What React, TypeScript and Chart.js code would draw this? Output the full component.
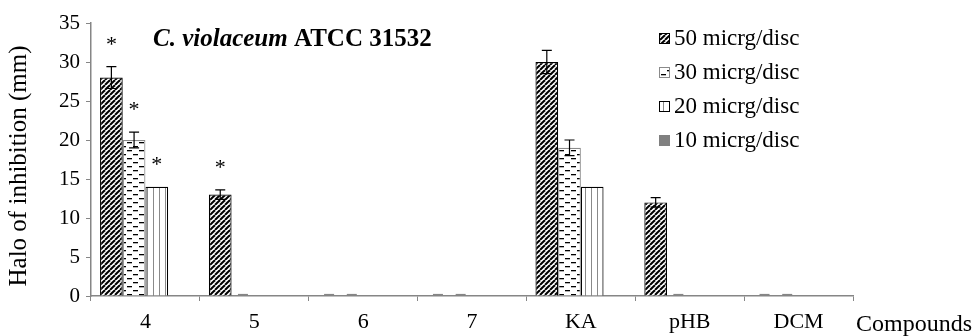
import React, { useEffect, useRef } from "react";
import { Chart, registerables } from "chart.js";
Chart.register(...registerables);

const categories = ["4", "5", "6", "7", "KA", "pHB", "DCM"];
const seriesLabels = ["50 micrg/disc", "30 micrg/disc", "20 micrg/disc", "10 micrg/disc"];
const values50 = [28, 13, 0, 0, 30, 12, 0];
const values30 = [20, 0, 0, 0, 19, 0, 0];
const values20 = [14, 0, 0, 0, 14, 0, 0];
const values10 = [0, 0, 0, 0, 0, 0, 0];
const err50: (number | null)[] = [1.4, 0.6, 0, 0, 1.5, 0.6, 0];
const err30: (number | null)[] = [1, 0, 0, 0, 1, 0, 0];
const err20: (number | null)[] = [null, null, null, null, null, null, null];
const err10: (number | null)[] = [null, null, null, null, null, null, null];
const sig50 = ["*", "*", "", "", "", "", ""];
const sig30 = ["*", "", "", "", "", "", ""];
const sig20 = ["*", "", "", "", "", "", ""];
const sig10 = ["", "", "", "", "", "", ""];
const yMin = 0;
const yMax = 35;
const yStep = 5;
const titleItalic = "C. violaceum";
const titleBold = " ATCC 31532";
const yTitle = "Halo of inhibition (mm)";
const xTitle = "Compounds";

const FONT = "'Liberation Serif', 'Times New Roman', serif";
const AXIS = "#868686";

function makePattern(kind: string): CanvasPattern | string {
  const c = document.createElement("canvas");
  let ctx: CanvasRenderingContext2D;
  if (kind === "diag") {
    const s = 5;
    c.width = s; c.height = s;
    ctx = c.getContext("2d")!;
    ctx.fillStyle = "#fff"; ctx.fillRect(0, 0, s, s);
    ctx.strokeStyle = "#000"; ctx.lineWidth = 2;
    for (const k of [-1, 0, 1]) {
      ctx.beginPath(); ctx.moveTo(k * s, s); ctx.lineTo(k * s + s, 0); ctx.stroke();
    }
  } else if (kind === "dash") {
    c.width = 12; c.height = 8;
    ctx = c.getContext("2d")!;
    ctx.fillStyle = "#fff"; ctx.fillRect(0, 0, 12, 8);
    ctx.fillStyle = "#000";
    ctx.fillRect(1, 2, 5, 1.3);
    ctx.fillRect(7, 6, 5, 1.3);
  } else if (kind === "vert") {
    c.width = 6; c.height = 2;
    ctx = c.getContext("2d")!;
    ctx.fillStyle = "#fff"; ctx.fillRect(0, 0, 6, 2);
    ctx.fillStyle = "#8a8a8a"; ctx.fillRect(3, 0, 1, 2);
  } else {
    return "#808080";
  }
  return ctx.createPattern(c, "repeat")!;
}

export default function App() {
  const ref = useRef<HTMLCanvasElement>(null);
  useEffect(() => {
    const errs = [err50, err30, err20, err10];
    const sigs = [sig50, sig30, sig20, sig10];
    const borders = ["#000", "#8a8a8a", "#000", "#808080"];
    const fills = [makePattern("diag"), makePattern("dash"), makePattern("vert"), makePattern("solid")];
    const vals = [values50, values30, values20, values10];

    const overlay = {
      id: "overlay",
      afterDatasetsDraw(chart: any) {
        const ctx = chart.ctx as CanvasRenderingContext2D;
        const y = chart.scales.y;
        ctx.save();
        chart.data.datasets.forEach((ds: any, di: number) => {
          const meta = chart.getDatasetMeta(di);
          meta.data.forEach((bar: any, i: number) => {
            const v = vals[di][i];
            const e = errs[di][i];
            let top = y.getPixelForValue(v);
            if (e !== null && e !== undefined) {
              const yt = y.getPixelForValue(v + e);
              const yb = y.getPixelForValue(Math.max(0, v - e));
              ctx.strokeStyle = v === 0 ? AXIS : "#000";
              ctx.lineWidth = 1.2;
              ctx.beginPath();
              if (v === 0) {
                ctx.moveTo(bar.x - 5, yt - 1.5); ctx.lineTo(bar.x + 5, yt - 1.5);
              } else {
                ctx.moveTo(bar.x, yt); ctx.lineTo(bar.x, yb);
                ctx.moveTo(bar.x - 5, yt); ctx.lineTo(bar.x + 5, yt);
                ctx.moveTo(bar.x - 5, yb); ctx.lineTo(bar.x + 5, yb);
              }
              ctx.stroke();
              top = Math.min(top, yt);
            }
            const s = sigs[di][i];
            if (s) {
              ctx.fillStyle = "#000";
              ctx.font = `22px ${FONT}`;
              ctx.textAlign = "center";
              ctx.textBaseline = "alphabetic";
              ctx.fillText(s, bar.x, top - 16);
            }
          });
        });
        ctx.restore();
      },
      afterDraw(chart: any) {
        const ctx = chart.ctx as CanvasRenderingContext2D;
        ctx.save();
        ctx.fillStyle = "#000";
        ctx.textAlign = "left";
        // title
        ctx.textBaseline = "alphabetic";
        ctx.font = `italic bold 25px ${FONT}`;
        ctx.fillText(titleItalic, 153, 46);
        const w = ctx.measureText(titleItalic).width;
        ctx.font = `bold 25px ${FONT}`;
        ctx.fillText(titleBold, 153 + w, 46);
        // legend
        ctx.textBaseline = "middle";
        ctx.font = `23px ${FONT}`;
        chart.data.datasets.forEach((ds: any, di: number) => {
          const cy = 38 + di * 34;
          ctx.fillStyle = ds.backgroundColor;
          ctx.fillRect(659, cy - 5, 11, 11);
          ctx.strokeStyle = borders[di];
          ctx.lineWidth = 1;
          ctx.strokeRect(659.5, cy - 4.5, 10, 10);
          ctx.fillStyle = "#000";
          ctx.fillText(ds.label, 674, cy + 1);
        });
        // x title
        ctx.font = `24px ${FONT}`;
        ctx.fillText(xTitle, 856, 325);
        // y title
        ctx.translate(19, 166);
        ctx.rotate(-Math.PI / 2);
        ctx.textAlign = "center";
        ctx.font = `25px ${FONT}`;
        ctx.fillText(yTitle, 0, 0);
        ctx.restore();
      },
    };

    const chart = new Chart(ref.current!, {
      type: "bar",
      data: {
        labels: categories,
        datasets: seriesLabels.map((label, di) => ({
          label,
          data: vals[di],
          backgroundColor: fills[di] as any,
          borderColor: borders[di],
          borderWidth: 1.2,
          categoryPercentage: 0.834,
          barPercentage: 1,
        })),
      },
      options: {
        responsive: false,
        animation: false,
        layout: { padding: { left: 0, top: 23, right: 127, bottom: 0 } },
        plugins: { legend: { display: false }, tooltip: { enabled: false }, title: { display: false } },
        scales: {
          x: {
            afterFit: (s: any) => { s.height = 40; },
            grid: { offset: true, drawOnChartArea: false, drawTicks: true, tickLength: 5, color: AXIS },
            border: { color: AXIS, width: 1.5 },
            ticks: { color: "#000", font: { family: FONT, size: 22 }, padding: 8, maxRotation: 0 },
          },
          y: {
            min: yMin,
            max: yMax,
            afterFit: (s: any) => { s.width = 91; },
            grid: { drawOnChartArea: false, drawTicks: true, tickLength: 5, color: AXIS },
            border: { color: AXIS, width: 1.5 },
            ticks: { stepSize: yStep, color: "#000", font: { family: FONT, size: 21 }, padding: 6 },
          },
        },
      },
      plugins: [overlay],
    });
    return () => chart.destroy();
  }, []);
  return (
    <div style={{ position: "fixed", left: 0, top: 0, width: 980, height: 336, background: "#fff" }}>
      <canvas ref={ref} width={980} height={336} />
    </div>
  );
}
